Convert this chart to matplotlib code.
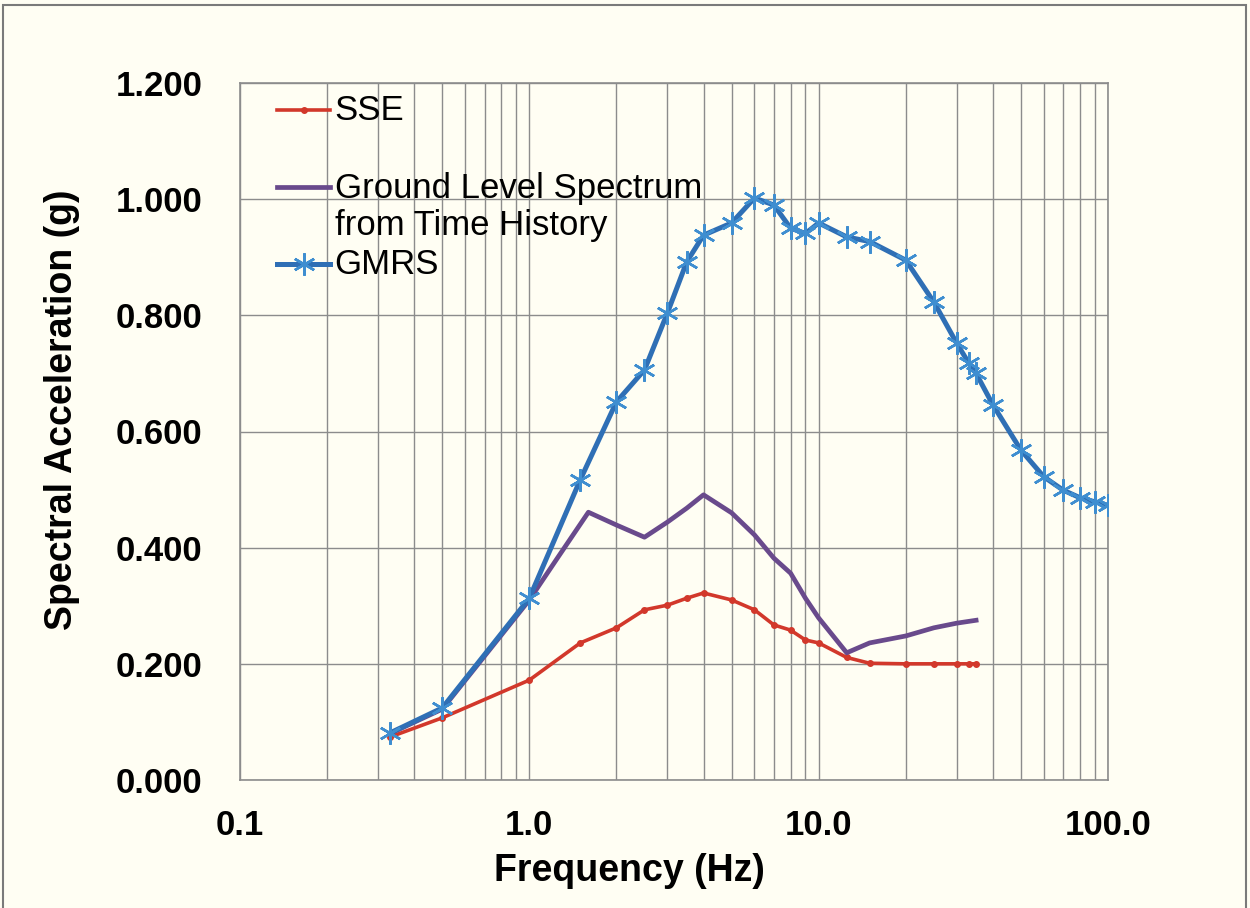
import matplotlib.pyplot as plt
import numpy as np
from matplotlib.lines import Line2D
from matplotlib.patches import Rectangle
from matplotlib.ticker import FixedLocator, NullFormatter, LogLocator

plt.rcParams['font.family'] = ['Liberation Sans', 'DejaVu Sans']

# SSE (small dot markers)
sse_freq = [0.33, 0.5, 1.0, 1.5, 2.0, 2.5, 3.0, 3.5, 4.0, 5.0, 6.0, 7.0, 8.0, 9.0,
            10.0, 12.5, 15.0, 20.0, 25.0, 30.0, 33.0, 35.0]
sse_acc = [0.074, 0.107, 0.172, 0.236, 0.262, 0.293, 0.301, 0.313, 0.322, 0.310,
           0.293, 0.267, 0.258, 0.241, 0.236, 0.211, 0.201, 0.200, 0.200, 0.200,
           0.200, 0.200]

# Ground level spectrum from time history
gl_freq = [0.33, 0.5, 1.0, 1.25, 1.6, 2.0, 2.5, 3.0, 3.5, 4.0, 5.0, 6.0, 7.0, 8.0,
           9.0, 10.0, 12.5, 15.0, 20.0, 25.0, 30.0, 35.0]
gl_acc = [0.080, 0.122, 0.310, 0.382, 0.461, 0.439, 0.418, 0.444, 0.468, 0.491,
          0.460, 0.422, 0.382, 0.356, 0.313, 0.279, 0.219, 0.236, 0.248, 0.262,
          0.270, 0.275]

# GMRS
gmrs_freq = [0.33, 0.5, 1.0, 1.5, 2.0, 2.5, 3.0, 3.5, 4.0, 5.0, 6.0, 7.0, 8.0, 9.0,
             10.0, 12.5, 15.0, 20.0, 25.0, 30.0, 33.0, 35.0, 40.0, 50.0, 60.0, 70.0,
             80.0, 90.0, 100.0]
gmrs_acc = [0.081, 0.124, 0.313, 0.517, 0.651, 0.706, 0.804, 0.892, 0.938, 0.959,
            1.002, 0.990, 0.950, 0.941, 0.959, 0.935, 0.927, 0.895, 0.823, 0.752,
            0.718, 0.700, 0.646, 0.568, 0.522, 0.499, 0.486, 0.479, 0.473]

y_ticks = [0.0, 0.2, 0.4, 0.6, 0.8, 1.0, 1.2]
x_ticks = [0.1, 1.0, 10.0, 100.0]
x_tick_labels = ['0.1', '1.0', '10.0', '100.0']

bg = '#fffef3'
grid_col = '#8c8c8c'
red = '#d2382b'
purple = '#694a8c'
blue = '#2f6fb5'
blue_mk = '#3f8ed0'

fig = plt.figure(figsize=(12.5, 9.08), dpi=100, facecolor=bg)
ax = fig.add_axes([240 / 1250, 128 / 908, 868 / 1250, 697 / 908])
ax.set_facecolor(bg)

ax.plot(sse_freq, sse_acc, color=red, lw=2.6, marker='o', ms=4, zorder=3)
ax.plot(gl_freq, gl_acc, color=purple, lw=3.4, zorder=3)
ax.plot(gmrs_freq, gmrs_acc, color=blue, lw=3.6, marker=(6, 2, 0), ms=16,
        mec=blue_mk, mew=1.8, zorder=4)

ax.set_xscale('log')
ax.set_xlim(0.1, 100)
ax.set_ylim(0, 1.2)
ax.xaxis.set_major_locator(FixedLocator(x_ticks))
ax.set_xticklabels(x_tick_labels)
ax.xaxis.set_minor_locator(LogLocator(base=10, subs=np.arange(2, 10)))
ax.xaxis.set_minor_formatter(NullFormatter())
ax.set_yticks(y_ticks)
ax.set_yticklabels(['%.3f' % v for v in y_ticks])

ax.grid(True, which='major', color=grid_col, lw=1.0)
ax.grid(True, which='minor', axis='x', color=grid_col, lw=1.0)
ax.set_axisbelow(True)
for s in ax.spines.values():
    s.set_color(grid_col)
    s.set_linewidth(1.2)

ax.tick_params(axis='both', which='both', length=0)
ax.tick_params(axis='y', labelsize=25, pad=27)
ax.tick_params(axis='x', labelsize=25, pad=21)
for lab in ax.get_xticklabels() + ax.get_yticklabels():
    lab.set_fontweight('bold')

ax.set_xlabel('Frequency (Hz)', fontsize=27, fontweight='bold')
ax.set_ylabel('Spectral Acceleration (g)', fontsize=27, fontweight='bold')
ax.xaxis.set_label_coords(0.449, -0.105)
ax.yaxis.set_label_coords(-0.184, 0.531)

# legend drawn by hand to follow the original spacing
hx = [0.043, 0.104]
tx = 0.109
fs = 25
ax.add_line(Line2D(hx, [0.961, 0.961], transform=ax.transAxes, color=red, lw=2.6))
ax.plot([sum(hx) / 2], [0.961], transform=ax.transAxes, color=red, marker='o', ms=4)
ax.text(tx, 0.961, 'SSE', transform=ax.transAxes, fontsize=fs, va='center', ha='left')
ax.add_line(Line2D(hx, [0.851, 0.851], transform=ax.transAxes, color=purple, lw=3.4))
ax.text(tx, 0.822, 'Ground Level Spectrum\nfrom Time History', transform=ax.transAxes,
        fontsize=fs, va='center', ha='left', linespacing=1.15)
ax.add_line(Line2D(hx, [0.740, 0.740], transform=ax.transAxes, color=blue, lw=3.6))
ax.plot([sum(hx) / 2], [0.740], transform=ax.transAxes, marker=(6, 2, 0), ms=16,
        mec=blue_mk, mew=1.8, color=blue_mk)
ax.text(tx, 0.740, 'GMRS', transform=ax.transAxes, fontsize=fs, va='center', ha='left')

# outer frame of the picture
fig.patches.append(Rectangle((3 / 1250, -0.01), 1243 / 1250, 1.01 - 5 / 908,
                             transform=fig.transFigure, fill=False,
                             edgecolor='#7a7a7a', lw=1.5))

fig.savefig('out.png', dpi=100, facecolor=bg)
